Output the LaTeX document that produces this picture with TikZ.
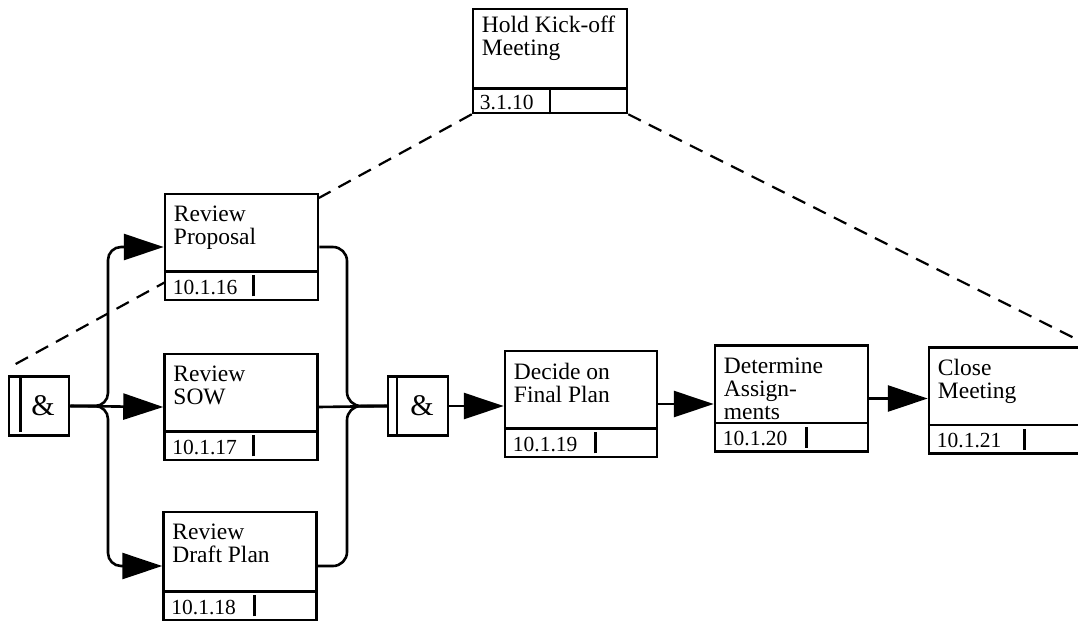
\documentclass[tikz,border=0pt]{standalone}
\usepackage{fontspec}
\setmainfont{Liberation Serif}
\usetikzlibrary{arrows.meta,backgrounds}

\tikzset{
  task/.style={draw, line width=2.5pt, fill=white, minimum width=153pt, minimum height=106pt, inner sep=0pt},
  tasktext/.style={anchor=north west, align=left, inner sep=0pt, font=\fontsize{23.5}{23}\selectfont},
  idtext/.style={anchor=base west, inner sep=0pt, font=\fontsize{21.5}{21}\selectfont},
  andbox/.style={draw, line width=2.5pt, fill=white, minimum width=60pt, minimum height=59pt, inner sep=0pt, font=\fontsize{30}{30}\selectfont},
  flow/.style={line width=2.6pt, -{Triangle[length=40pt,width=26pt]}},
  mergeline/.style={line width=2.6pt, rounded corners=14pt},
  zoomline/.style={line width=2.2pt, dash pattern=on 14pt off 9pt},
}

% title and id strip of a task box
\newcommand{\taskpart}[4]{% node, title, id, bar offset
  \node[tasktext] (#1-t) at ([xshift=10pt,yshift=-13pt]#1.north west) {#2};
  \draw[line width=2.5pt] ([yshift=30pt]#1.south west) -- ([yshift=30pt]#1.south east);
  \node[idtext] (#1-id) at ([xshift=9pt,yshift=7pt]#1.south west) {#3};
  \draw[line width=2.8pt] ([xshift=#4,yshift=5pt]#1.south west) -- ([xshift=#4,yshift=26pt]#1.south west);
}

\begin{document}
\begin{tikzpicture}[x=1pt, y=-1pt]
    \useasboundingbox (0,0) rectangle (1078,622);
    \clip (0,0) rectangle (1078,622);
    % Coordinate
    \coordinate (split) at (108,406);
    \coordinate (merge) at (347,406);
    \coordinate (zl) at (12,366);
    \coordinate (zr) at (1100,351);
    % Kick-off box
    \node[task, minimum width=154pt, minimum height=104pt] (kick) at (550,61) {};
    \node[tasktext] (kick-t) at ([xshift=10pt,yshift=-8pt]kick.north west) {Hold Kick-off\\Meeting};
    \draw[line width=2.5pt] ([yshift=26pt]kick.south west) -- ([yshift=26pt]kick.south east);
    \node[idtext] (kick-id) at ([xshift=8pt,yshift=5pt]kick.south west) {3.1.10};
    \draw[line width=2.5pt] ([xshift=78pt]kick.south west) -- ([xshift=78pt,yshift=26pt]kick.south west);
    % Tasks
    \node[task] (prop) at (241.5,247) {};
    \taskpart{prop}{Review\\Proposal}{10.1.16}{90pt}
    \node[task] (sow) at (241,407) {};
    \taskpart{sow}{Review\\SOW}{10.1.17}{90pt}
    \node[task, minimum height=108pt] (draft) at (240,566) {};
    \taskpart{draft}{Review\\Draft Plan}{10.1.18}{92pt}
    \node[task, minimum width=152pt] (decide) at (581,404) {};
    \taskpart{decide}{Decide on\\Final Plan}{10.1.19}{92pt}
    \node[task] (assign) at (791.5,398.5) {};
    \taskpart{assign}{Determine\\Assign-\\ments}{10.1.20}{93pt}
    \node[task] (close) at (1005.5,400.5) {};
    \taskpart{close}{Close\\Meeting}{10.1.21}{97pt}
    % And junctions
    \node[andbox] (andL) at (39,406) {\hspace{8pt}\&};
    \draw[line width=2.8pt] ([xshift=13pt,yshift=-2pt]andL.north west) -- ([xshift=13pt,yshift=5pt]andL.south west);
    \node[andbox] (andM) at (418,406) {\hspace{8pt}\&};
    \draw[line width=2.5pt] ([xshift=10pt]andM.north west) -- ([xshift=10pt]andM.south west);
    % Linee
    \draw[flow, rounded corners=13pt] (andL.east) -| (split |- prop.west) -- (prop.west);
    \draw[flow] (andL.east) -- (sow.west);
    \draw[flow, rounded corners=13pt] (andL.east) -| (split |- draft.west) -- (draft.west);
    \draw[mergeline] (prop.east) -| (merge) -- (andM.west);
    \draw[mergeline] (sow.east) -- (andM.west);
    \draw[mergeline] (draft.east) -| (merge) -- (andM.west);
    \draw[flow] (andM.east) -- (andM.east -| decide.west);
    \draw[flow] (decide.east) -- (decide.east -| assign.west);
    \draw[flow] (assign.east) -- (assign.east -| close.west);
    % Zoom lines
    \begin{scope}[on background layer]
        \fill[white] (0,0) rectangle (1078,622);
        \draw[zoomline] (kick.south west) -- (zl);
        \draw[zoomline] (kick.south east) -- (zr);
    \end{scope}
\end{tikzpicture}
\end{document}
